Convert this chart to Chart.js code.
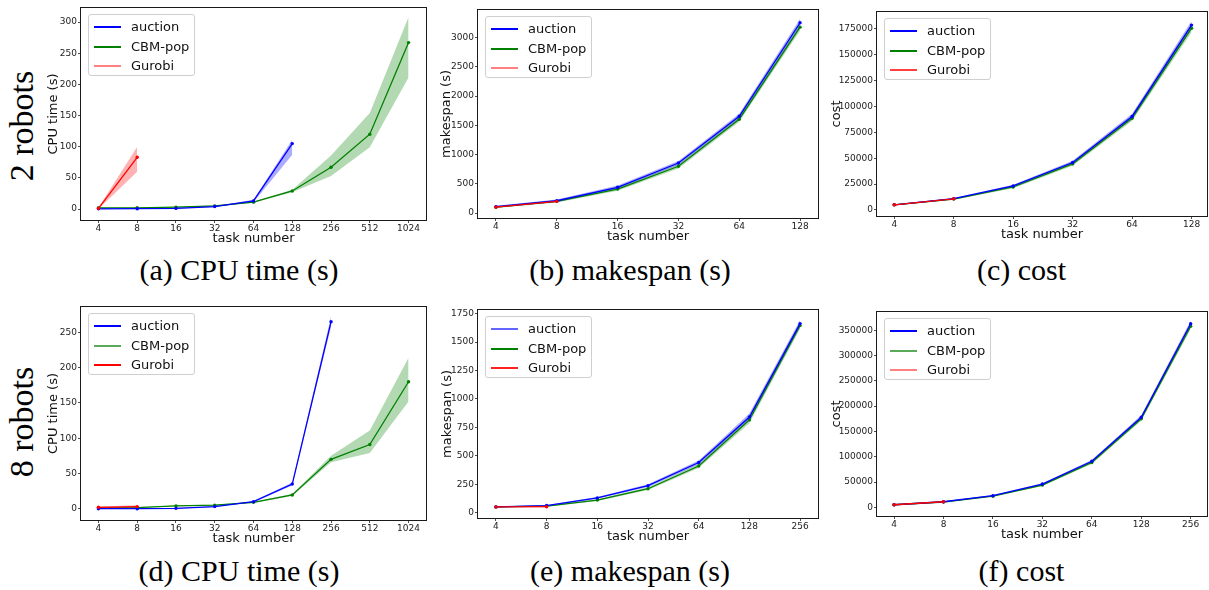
<!DOCTYPE html>
<html>
<head>
<meta charset="utf-8">
<script src="https://cdn.jsdelivr.net/npm/chart.js@4.4.1/dist/chart.umd.min.js"></script>
<style>
html, body { margin:0; padding:0; background:#fff; width:1209px; height:590px; overflow:hidden; position:relative; }
canvas { position:absolute; }
.legend { position:absolute; width:107px; height:62px; box-sizing:border-box; border:1px solid #cfcfcf; border-radius:3px; background:rgba(255,255,255,0.85); z-index:5; font-family:'DejaVu Sans', sans-serif; font-size:13px; color:#111; }
.legend .row { position:absolute; left:0; height:16px; width:100%; }
.legend .sw { position:absolute; left:5px; width:27px; height:2px; top:7px; }
.legend .tx { position:absolute; left:42px; top:0; line-height:16px; white-space:nowrap; }
.cap { position:absolute; font-family:'Liberation Serif', serif; font-size:30px; line-height:1; white-space:nowrap; transform:translate(-50%,-50%); color:#000; }
.rowlab { position:absolute; font-family:'Liberation Serif', serif; font-size:34px; line-height:1; white-space:nowrap; transform:translate(-50%,-50%) rotate(-90deg); color:#000; }
</style>
</head>
<body>
<script>
// ---------------- data ----------------
const TASKS_A = ['4','8','16','32','64','128','256','512','1024'];
const TASKS_B = ['4','8','16','32','64','128'];
const TASKS_E = ['4','8','16','32','64','128','256'];

// (a) 2 robots, CPU time (s)
const aAuction   = [0.3, 0.5, 1, 4, 13, 105];
const aAuctionHi = [0.8, 1, 1.8, 4.6, 15, 111];
const aAuctionLo = [0, 0, 0.4, 3.4, 11, 87];
const aCbm   = [2, 2, 3, 5, 11, 29, 67, 120, 267];
const aCbmHi = [2.6, 2.6, 3.8, 5.6, 12, 31, 86, 154, 308];
const aCbmLo = [1.4, 1.4, 2.2, 4.4, 10, 27, 53, 99, 211];
const aGurobi   = [1, 83];
const aGurobiHi = [2, 100];
const aGurobiLo = [0, 60];
const aYTicks = [0, 50, 100, 150, 200, 250, 300];

// (b) 2 robots, makespan (s)
const bAuction   = [110, 210, 440, 855, 1655, 3255];
const bAuctionHi = [125, 230, 470, 890, 1700, 3320];
const bAuctionLo = [95, 190, 410, 820, 1610, 3190];
const bCbm   = [100, 200, 410, 800, 1605, 3180];
const bCbmHi = [112, 218, 440, 840, 1650, 3240];
const bCbmLo = [88, 182, 380, 760, 1560, 3120];
const bGurobi   = [100, 200];
const bGurobiHi = [108, 210];
const bGurobiLo = [92, 190];
const bYTicks = [0, 500, 1000, 1500, 2000, 2500, 3000];

// (c) 2 robots, cost
const cAuction   = [5000, 11000, 23200, 45800, 90300, 178500];
const cAuctionHi = [5400, 11600, 24300, 47500, 93000, 182500];
const cAuctionLo = [4600, 10400, 22100, 44100, 87600, 174500];
const cCbm   = [5000, 10500, 22200, 44500, 88500, 175500];
const cCbmHi = [5400, 11100, 23300, 46200, 91200, 179500];
const cCbmLo = [4600, 9900, 21100, 42800, 85800, 171500];
const cGurobi   = [5000, 10800];
const cGurobiHi = [5300, 11200];
const cGurobiLo = [4700, 10400];
const cYTicks = [0, 25000, 50000, 75000, 100000, 125000, 150000, 175000];

// (d) 8 robots, CPU time (s)
const dAuction   = [0, 0, 0.5, 3, 10, 35, 265];
const dAuctionHi = [0.3, 0.4, 1, 3.6, 11, 37, 272];
const dAuctionLo = [0, 0, 0.1, 2.4, 9, 33, 258];
const dCbm   = [1, 1.5, 4, 5, 9, 19.5, 70, 91, 180];
const dCbmHi = [1.5, 2, 4.6, 5.6, 10, 21, 75, 111, 214];
const dCbmLo = [0.5, 1, 3.4, 4.4, 8, 18, 66, 79, 152];
const dGurobi   = [2, 3];
const dGurobiHi = [3, 5];
const dGurobiLo = [1, 1.5];
const dYTicks = [0, 50, 100, 150, 200, 250];

// (e) 8 robots, makespan (s)
const eAuction   = [50, 62, 129, 237, 440, 841, 1662];
const eAuctionHi = [53, 67, 137, 249, 458, 871, 1692];
const eAuctionLo = [47, 57, 121, 225, 422, 811, 1632];
const eCbm   = [50, 57, 110, 210, 410, 815, 1645];
const eCbmHi = [53, 62, 118, 222, 428, 845, 1675];
const eCbmLo = [47, 52, 102, 198, 392, 785, 1615];
const eGurobi   = [50, 52];
const eGurobiHi = [53, 56];
const eGurobiLo = [47, 48];
const eYTicks = [0, 250, 500, 750, 1000, 1250, 1500, 1750];

// (f) 8 robots, cost
const fAuction   = [5000, 11000, 23000, 46000, 91000, 178000, 363000];
const fAuctionHi = [5400, 11600, 24100, 47700, 93700, 182000, 369000];
const fAuctionLo = [4600, 10400, 21900, 44300, 88300, 174000, 357000];
const fCbm   = [5000, 10500, 22000, 44000, 88500, 175000, 358000];
const fCbmHi = [5400, 11100, 23100, 45700, 91200, 179000, 364000];
const fCbmLo = [4600, 9900, 20900, 42300, 85800, 171000, 352000];
const fGurobi   = [5000, 11000];
const fGurobiHi = [5300, 11400];
const fGurobiLo = [4700, 10600];
const fYTicks = [0, 50000, 100000, 150000, 200000, 250000, 300000, 350000];

const SERIES_NAMES = ['auction', 'CBM-pop', 'Gurobi'];
const ROW_LABELS = ['2 robots', '8 robots'];
const CAPTIONS = ['(a) CPU time (s)', '(b) makespan (s)', '(c) cost', '(d) CPU time (s)', '(e) makespan (s)', '(f) cost'];

// ---------------- styling / layout ----------------
const COL = { auction:'#0000ff', cbm:'#008000', gurobi:'#ff0000' };
const FILL = { auction:'rgba(0,0,255,0.32)', cbm:'rgba(0,128,0,0.3)', gurobi:'rgba(255,0,0,0.3)' };
const PT = 10, PR = 3, XH = 26, TITLE_LH = 7.8;
const TICK_FONT = { family:'DejaVu Sans', size:9 };
const TITLE_FONT = { family:'DejaVu Sans', size:13 };

const panels = [
  { L:81,  T:8,   R:427,  B:220, xmin:-0.45,  xmax:8.45, ymin:-17.6, ymax:322.5, yTitle:'CPU time (s)', tOff:27, labels:TASKS_A, yticks:aYTicks,
    s:{ auction:[aAuction,aAuctionHi,aAuctionLo], cbm:[aCbm,aCbmHi,aCbmLo], gurobi:[aGurobi,aGurobiHi,aGurobiLo] },
    leg:['#0000ff','#008000','#ff8080'] },
  { L:478, T:10,  R:819,  B:218, xmin:-0.295, xmax:5.295, ymin:-85, ymax:3473, yTitle:'makespan (s)', tOff:31, labels:TASKS_B, yticks:bYTicks,
    s:{ auction:[bAuction,bAuctionHi,bAuctionLo], cbm:[bCbm,bCbmHi,bCbmLo], gurobi:[bGurobi,bGurobiHi,bGurobiLo] },
    leg:['#0000ff','#008000','#ff8080'] },
  { L:877, T:12,  R:1208, B:216, xmin:-0.29,  xmax:5.26, ymin:-5800, ymax:191150, yTitle:'cost', tOff:40, labels:TASKS_B, yticks:cYTicks,
    s:{ auction:[cAuction,cAuctionHi,cAuctionLo], cbm:[cCbm,cCbmHi,cCbmLo], gurobi:[cGurobi,cGurobiHi,cGurobiLo] },
    leg:['#0000ff','#008000','#ff4040'] },
  { L:81,  T:307, R:427,  B:520, xmin:-0.45,  xmax:8.45, ymin:-16, ymax:286, yTitle:'CPU time (s)', tOff:27, labels:TASKS_A, yticks:dYTicks,
    s:{ auction:[dAuction,dAuctionHi,dAuctionLo], cbm:[dCbm,dCbmHi,dCbmLo], gurobi:[dGurobi,dGurobiHi,dGurobiLo] },
    leg:['#0000ff','#5aaa5a','#ff0000'] },
  { L:478, T:310, R:819,  B:518, xmin:-0.354, xmax:6.354, ymin:-47.5, ymax:1781.7, yTitle:'makespan (s)', tOff:30, labels:TASKS_E, yticks:eYTicks,
    s:{ auction:[eAuction,eAuctionHi,eAuctionLo], cbm:[eCbm,eCbmHi,eCbmLo], gurobi:[eGurobi,eGurobiHi,eGurobiLo] },
    leg:['#6464ff','#008000','#ff2020'] },
  { L:877, T:312, R:1208, B:516, xmin:-0.345, xmax:6.33, ymin:-17200, ymax:386180, yTitle:'cost', tOff:40, labels:TASKS_E, yticks:fYTicks,
    s:{ auction:[fAuction,fAuctionHi,fAuctionLo], cbm:[fCbm,fCbmHi,fCbmLo], gurobi:[fGurobi,fGurobiHi,fGurobiLo] },
    leg:['#0000ff','#5aaa5a','#ff8080'] }
];

const pts = arr => arr.map((v, i) => ({ x:i, y:v }));

const framePlugin = {
  id:'frame',
  afterDraw(chart) {
    const { ctx, chartArea:a } = chart;
    ctx.save();
    ctx.strokeStyle = '#1a1a1a';
    ctx.lineWidth = 1;
    ctx.strokeRect(a.left - 0.5, a.top - 0.5, a.right - a.left + 1, a.bottom - a.top + 1);
    ctx.restore();
  }
};

panels.forEach((p, idx) => {
  const YW = Math.round(p.tOff + TITLE_LH);
  const W = YW + (p.R - p.L) + PR;
  const H = PT + (p.B - p.T) + XH;
  const cv = document.createElement('canvas');
  cv.width = W; cv.height = H;
  cv.style.left = (p.L - YW) + 'px';
  cv.style.top = (p.T - PT) + 'px';
  cv.style.width = W + 'px'; cv.style.height = H + 'px';
  document.body.appendChild(cv);

  const datasets = [];
  ['gurobi','auction','cbm'].forEach(k => {
    datasets.push({ data:pts(p.s[k][0]), borderColor:COL[k], backgroundColor:COL[k], borderWidth:1.3,
      pointRadius:1.7, pointBorderWidth:0, pointBackgroundColor:COL[k], fill:false, tension:0 });
  });
  ['gurobi','auction','cbm'].forEach(k => {
    datasets.push({ data:pts(p.s[k][1]), borderWidth:0, pointRadius:0, backgroundColor:FILL[k], borderColor:'transparent', fill:'+1', tension:0 });
    datasets.push({ data:pts(p.s[k][2]), borderWidth:0, pointRadius:0, backgroundColor:FILL[k], borderColor:'transparent', fill:false, tension:0 });
  });

  const gridOpts = { display:true, drawOnChartArea:false, drawTicks:true, tickLength:3, color:'#222', lineWidth:0.8 };

  new Chart(cv.getContext('2d'), {
    type:'line',
    data:{ datasets },
    options:{
      responsive:false, animation:false, devicePixelRatio:1,
      layout:{ padding:{ top:PT, right:PR, left:0, bottom:0 } },
      plugins:{ legend:{ display:false }, tooltip:{ enabled:false }, filler:{ propagate:false, drawTime:'beforeDatasetsDraw' } },
      scales:{
        x:{ type:'linear', min:p.xmin, max:p.xmax,
            afterBuildTicks: s => { s.ticks = p.labels.map((_, i) => ({ value:i })); },
            afterFit: s => { s.height = XH; },
            ticks:{ callback: v => p.labels[Math.round(v)], font:TICK_FONT, color:'#222', padding:0, maxRotation:0, autoSkip:false },
            grid:gridOpts, border:{ display:false },
            title:{ display:true, text:'task number', font:TITLE_FONT, color:'#111', padding:0 } },
        y:{ type:'linear', min:p.ymin, max:p.ymax,
            afterBuildTicks: s => { s.ticks = p.yticks.map(v => ({ value:v })); },
            afterFit: s => { s.width = YW; },
            ticks:{ callback: v => String(v), font:TICK_FONT, color:'#222', padding:1, autoSkip:false },
            grid:gridOpts, border:{ display:false },
            title:{ display:true, text:p.yTitle, font:TITLE_FONT, color:'#111', padding:0 } }
      }
    },
    plugins:[framePlugin]
  });

  // legend (matplotlib style, inside upper-left of axes)
  const lg = document.createElement('div');
  lg.className = 'legend';
  lg.style.left = (p.L + 7) + 'px';
  lg.style.top = (p.T + 6) + 'px';
  const rowTops = [4, 24, 43];
  SERIES_NAMES.forEach((name, i) => {
    const r = document.createElement('div');
    r.className = 'row';
    r.style.top = rowTops[i] + 'px';
    const sw = document.createElement('div');
    sw.className = 'sw';
    sw.style.background = p.leg[i];
    const tx = document.createElement('div');
    tx.className = 'tx';
    tx.textContent = name;
    r.appendChild(sw); r.appendChild(tx);
    lg.appendChild(r);
  });
  document.body.appendChild(lg);
});

// captions
const capPos = [[239, 269.5], [630, 269.5], [1021.5, 269.5], [239, 570.5], [630, 570.5], [1021.5, 570.5]];
CAPTIONS.forEach((t, i) => {
  const d = document.createElement('div');
  d.className = 'cap';
  d.textContent = t;
  d.style.left = capPos[i][0] + 'px';
  d.style.top = capPos[i][1] + 'px';
  document.body.appendChild(d);
});

// row labels
const rowPos = [[22, 125.5], [22, 421.5]];
ROW_LABELS.forEach((t, i) => {
  const d = document.createElement('div');
  d.className = 'rowlab';
  d.textContent = t;
  d.style.left = rowPos[i][0] + 'px';
  d.style.top = rowPos[i][1] + 'px';
  document.body.appendChild(d);
});
</script>
</body>
</html>
